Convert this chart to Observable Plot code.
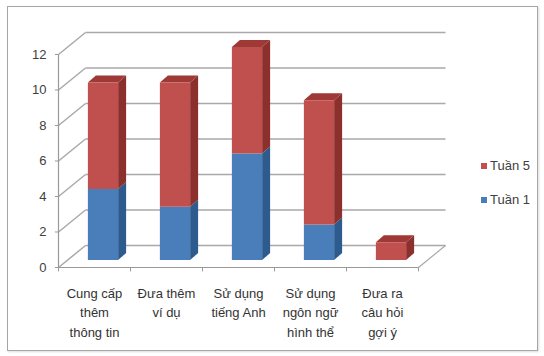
<!DOCTYPE html>
<html><head><meta charset="utf-8">
<script src="https://cdn.jsdelivr.net/npm/d3@7"></script>
<script src="https://cdn.jsdelivr.net/npm/@observablehq/plot@0.6"></script>
<style>
body{margin:0;background:#fff;font-family:"Liberation Sans",Arial,sans-serif;}
#wrap{position:relative;width:544px;height:356px;overflow:hidden;background:#fff;}
#frame{position:absolute;left:7px;top:6px;width:529px;height:343px;border:1px solid #a6a6a6;box-shadow:1px 1px 2px #ddd;}
#chart{position:absolute;left:0;top:0;}
.lg{position:absolute;left:481px;font-size:13px;color:#404040;height:16px;line-height:16px;white-space:nowrap;}
.lg span{display:inline-block;width:6px;height:6px;margin-right:3px;vertical-align:middle;position:relative;top:-1px;}
</style></head><body>
<div id="wrap"><div id="frame"></div><div id="chart"></div><div id="legend"></div></div>
<script>
const categories = ["Cung cấp\nthêm\nthông tin", "Đưa thêm\nví dụ", "Sử dụng\ntiếng Anh", "Sử dụng\nngôn ngữ\nhình thể", "Đưa ra\ncâu hỏi\ngợi ý"];
const tuan1 = [4, 3, 6, 2, 0];
const tuan5 = [6, 7, 6, 7, 1];
const seriesNames = ["Tuần 1", "Tuần 5"];
const yTicks = [0, 2, 4, 6, 8, 10, 12];

// colours: front, side, top
const palette = {
  "Tuần 1": {front: "#4a7ebb", side: "#2d5b8e", top: "#3a6aa3"},
  "Tuần 5": {front: "#c0504d", side: "#8c302d", top: "#9e3936"}
};

// pseudo-3D geometry (in scale units)
const HALF = 0.21, DX = 0.111, DY = 0.394;
const FRONT_DX = -0.125, FRONT_DY = -0.394, BACK_DX = 0.25, BACK_DY = 0.845;
const AXL = -0.5, AXR = 4.5;

// build segments from data
const segs = [];
categories.forEach((c, i) => {
  let base = 0;
  [[seriesNames[0], tuan1[i]], [seriesNames[1], tuan5[i]]].forEach(([s, v]) => {
    if (v > 0) segs.push({i, s, y1: base, y2: base + v});
    base += v;
  });
});
const topSeg = {};
segs.forEach(d => { topSeg[d.i] = d; });
const sidePts = [], topPts = [];
segs.forEach((d, k) => {
  const x = d.i + HALF, f = palette[d.s].side;
  sidePts.push({id: k, x, y1: d.y1, y2: d.y2, fill: f});
  sidePts.push({id: k, x: x + DX, y1: d.y1 + DY, y2: d.y2 + DY, fill: f});
});
Object.values(topSeg).forEach((d, k) => {
  const f = palette[d.s].top;
  topPts.push({id: k, y: d.y2, x1: d.i - HALF, x2: d.i + HALF, fill: f});
  topPts.push({id: k, y: d.y2 + DY, x1: d.i - HALF + DX, x2: d.i + HALF + DX, fill: f});
});
const bounds = d3.range(categories.length + 1).map(b => b - 0.5);
const gridC = "#a9a9a9";

const plot = Plot.plot({
  width: 544, height: 356,
  marginLeft: 31, marginRight: 81, marginTop: 47, marginBottom: 96,
  x: {domain: [-1, 5], axis: null},
  y: {domain: [0, 12], axis: null},
  color: {type: "identity"},
  style: {background: "transparent", fontFamily: "Liberation Sans, Arial, sans-serif"},
  marks: [
    Plot.link(yTicks, {x1: () => AXL + BACK_DX, x2: () => AXR + BACK_DX, y1: t => t + BACK_DY, y2: t => t + BACK_DY, stroke: gridC, strokeWidth: 1.5}),
    Plot.link(yTicks, {x1: () => AXL + FRONT_DX, y1: t => t + FRONT_DY, x2: () => AXL + BACK_DX, y2: t => t + BACK_DY, stroke: gridC, strokeWidth: 1.5}),
    Plot.link([0], {x1: () => AXR + FRONT_DX, y1: () => FRONT_DY, x2: () => AXR + BACK_DX, y2: () => BACK_DY, stroke: gridC, strokeWidth: 1.2}),
    Plot.link([0], {x1: () => AXL + FRONT_DX, x2: () => AXR + FRONT_DX, y1: () => FRONT_DY, y2: () => FRONT_DY, stroke: "#999", strokeWidth: 1.2}),
    Plot.link([0], {x1: () => AXL + FRONT_DX, x2: () => AXL + FRONT_DX, y1: () => FRONT_DY, y2: () => 12 + FRONT_DY, stroke: "#999", strokeWidth: 1.2}),
    Plot.link(yTicks, {x1: () => AXL + FRONT_DX - 0.05, x2: () => AXL + FRONT_DX, y1: t => t + FRONT_DY, y2: t => t + FRONT_DY, stroke: "#999"}),
    Plot.link(bounds, {x1: b => b + FRONT_DX, x2: b => b + FRONT_DX, y1: () => FRONT_DY, y2: () => FRONT_DY - 0.22, stroke: "#999"}),
    Plot.areaY(sidePts, {x: "x", y1: "y1", y2: "y2", z: "id", fill: "fill"}),
    Plot.areaX(topPts, {y: "y", x1: "x1", x2: "x2", z: "id", fill: "fill"}),
    Plot.rect(segs, {x1: d => d.i - HALF, x2: d => d.i + HALF, y1: "y1", y2: "y2", fill: d => palette[d.s].front}),
    Plot.text(yTicks, {x: () => AXL + FRONT_DX, y: t => t + FRONT_DY, text: t => String(t), textAnchor: "end", dx: -12, fontSize: 13, fill: "#404040"}),
    Plot.text(categories, {x: (d, i) => i + FRONT_DX, y: () => FRONT_DY, text: d => d, lineAnchor: "top", dy: 16, fontSize: 13, lineHeight: 1.52, fill: "#333"})
  ]
});
document.getElementById("chart").appendChild(plot);

const legend = document.getElementById("legend");
[[seriesNames[1], 158], [seriesNames[0], 192]].forEach(([s, top]) => {
  const div = document.createElement("div");
  div.className = "lg";
  div.style.top = top + "px";
  div.innerHTML = `<span style="background:${palette[s].front}"></span>${s}`;
  legend.appendChild(div);
});
</script>
</body></html>
